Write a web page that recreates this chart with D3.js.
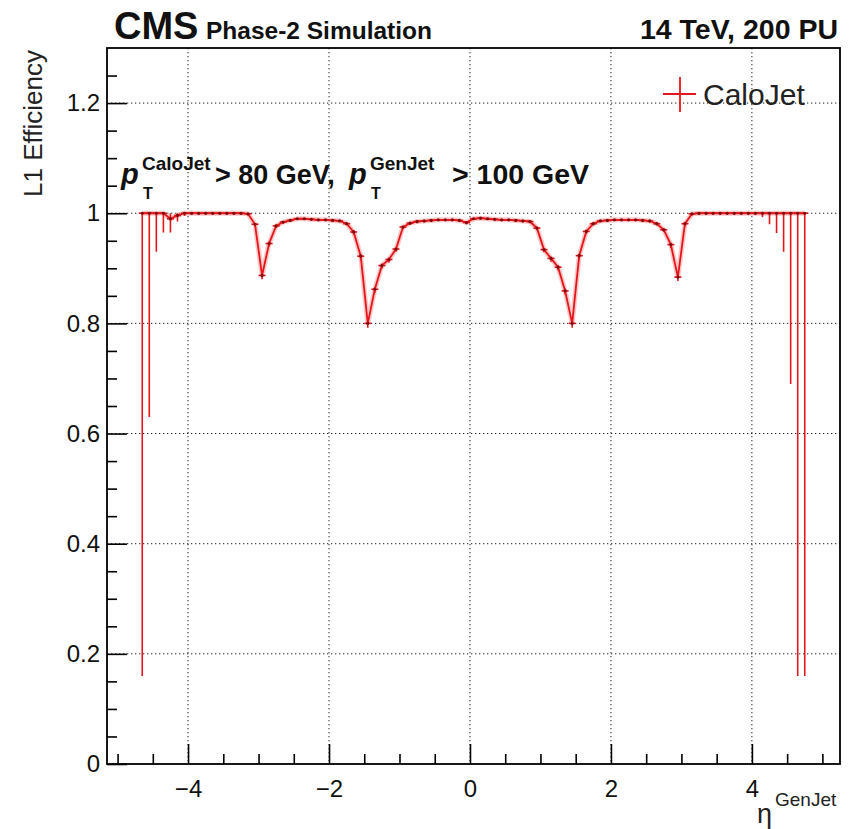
<!DOCTYPE html>
<html>
<head>
<meta charset="utf-8">
<script src="https://cdn.jsdelivr.net/npm/d3@7"></script>
<style>
  body { margin: 0; background: #fff; }
  svg { font-family: "Liberation Sans", Arial, Helvetica, sans-serif; }
</style>
</head>
<body>
<svg id="viz" width="849" height="829"></svg>
<script>
// eta bin centres (bin width 0.1)
const etaBins = [
  -4.65, -4.55, -4.45, -4.35, -4.25, -4.15, -4.05, -3.95, -3.85, -3.75,
  -3.65, -3.55, -3.45, -3.35, -3.25, -3.15, -3.05, -2.95, -2.85, -2.75,
  -2.65, -2.55, -2.45, -2.35, -2.25, -2.15, -2.05, -1.95, -1.85, -1.75,
  -1.65, -1.55, -1.45, -1.35, -1.25, -1.15, -1.05, -0.95, -0.85, -0.75,
  -0.65, -0.55, -0.45, -0.35, -0.25, -0.15, -0.05, 0.05, 0.15, 0.25,
  0.35, 0.45, 0.55, 0.65, 0.75, 0.85, 0.95, 1.05, 1.15, 1.25,
  1.35, 1.45, 1.55, 1.65, 1.75, 1.85, 1.95, 2.05, 2.15, 2.25,
  2.35, 2.45, 2.55, 2.65, 2.75, 2.85, 2.95, 3.05, 3.15, 3.25,
  3.35, 3.45, 3.55, 3.65, 3.75, 3.85, 3.95, 4.05, 4.15, 4.25,
  4.35, 4.45, 4.55, 4.65, 4.75
];

// L1 efficiency per bin
const efficiency = [
  1.0, 1.0, 1.0, 1.0, 0.99, 0.996, 1.0, 1.0, 1.0, 1.0,
  1.0, 1.0, 1.0, 1.0, 1.0, 0.999, 0.98, 0.887, 0.945, 0.977,
  0.984, 0.987, 0.99, 0.99, 0.989, 0.988, 0.988, 0.987, 0.986, 0.981,
  0.966, 0.922, 0.80, 0.862, 0.905, 0.916, 0.935, 0.975, 0.982, 0.985,
  0.986, 0.987, 0.988, 0.988, 0.988, 0.987, 0.983, 0.99, 0.991, 0.99,
  0.989, 0.988, 0.988, 0.987, 0.986, 0.985, 0.973, 0.934, 0.918, 0.902,
  0.859, 0.80, 0.923, 0.967, 0.981, 0.986, 0.987, 0.988, 0.988, 0.988,
  0.988, 0.987, 0.986, 0.981, 0.97, 0.943, 0.884, 0.981, 0.999, 1.0,
  1.0, 1.0, 1.0, 1.0, 1.0, 1.0, 1.0, 1.0, 1.0, 1.0,
  1.0, 1.0, 1.0, 1.0, 1.0
];

// lower edge of the error bar
const errLowEdge = [
  0.16, 0.63, 0.93, 0.965, 0.965, 0.985, 0.995, 0.997, 0.997, 0.997,
  0.997, 0.997, 0.997, 0.997, 0.997, 0.996, 0.976, 0.880, 0.939, 0.973,
  0.981, 0.985, 0.988, 0.988, 0.987, 0.986, 0.986, 0.985, 0.984, 0.978,
  0.961, 0.916, 0.792, 0.855, 0.899, 0.910, 0.930, 0.971, 0.979, 0.982,
  0.983, 0.984, 0.986, 0.986, 0.986, 0.985, 0.980, 0.988, 0.989, 0.988,
  0.987, 0.986, 0.986, 0.985, 0.983, 0.982, 0.969, 0.929, 0.912, 0.896,
  0.852, 0.792, 0.917, 0.962, 0.978, 0.984, 0.985, 0.986, 0.986, 0.986,
  0.986, 0.985, 0.983, 0.978, 0.966, 0.937, 0.877, 0.976, 0.996, 0.997,
  0.997, 0.997, 0.997, 0.997, 0.997, 0.997, 0.997, 0.997, 0.993, 0.98,
  0.964, 0.93, 0.69, 0.16, 0.16
];

const xTicksMajor = [-4, -2, 0, 2, 4];
const xTicksMinor = [-5, -4.5, -3.5, -3, -2.5, -1.5, -1, -0.5, 0.5, 1, 1.5, 2.5, 3, 3.5, 4.5, 5];
const yTicksMajor = [0, 0.2, 0.4, 0.6, 0.8, 1.0, 1.2];
const yTicksMinor = [0.05, 0.1, 0.15, 0.25, 0.3, 0.35, 0.45, 0.5, 0.55, 0.65, 0.7, 0.75,
                     0.85, 0.9, 0.95, 1.05, 1.1, 1.15, 1.25];

const CONFIG = {
  left: 107, right: 840, top: 48, bottom: 764,
  red: "#e4161b",
  halo: "#f6a3a3",
  marker: "#7d0e10",
  binHalf: 0.05
};

const svg = d3.select("#viz");

const x = d3.scaleLinear().domain([-5.15, 5.25]).range([CONFIG.left, CONFIG.right]);
const y = d3.scaleLinear().domain([0, 1.3]).range([CONFIG.bottom, CONFIG.top]);

const fmt = v => (v < 0 ? "\u2212" : "") + Math.abs(v);

// grid (dotted)
const grid = svg.append("g").attr("stroke", "#222").attr("stroke-width", 1)
  .attr("stroke-dasharray", "1.3,2.7");
grid.selectAll(".gx").data(xTicksMajor).join("line")
  .attr("x1", d => x(d)).attr("x2", d => x(d))
  .attr("y1", CONFIG.top).attr("y2", CONFIG.bottom);
grid.selectAll(".gy").data(yTicksMajor.filter(d => d > 0)).join("line")
  .attr("x1", CONFIG.left).attr("x2", CONFIG.right)
  .attr("y1", d => y(d)).attr("y2", d => y(d));

// axes
const xAxis = d3.axisBottom(x).tickValues(xTicksMajor).tickFormat(fmt).tickSizeInner(-20).tickSizeOuter(0).tickPadding(28);
const xAxisMinor = d3.axisBottom(x).tickValues(xTicksMinor).tickFormat("").tickSizeInner(-10).tickSizeOuter(0);
const yAxis = d3.axisLeft(y).tickValues(yTicksMajor).tickFormat(d => d3.format("~g")(d)).tickSizeInner(-20).tickSizeOuter(0).tickPadding(28);
const yAxisMinor = d3.axisLeft(y).tickValues(yTicksMinor).tickFormat("").tickSizeInner(-10).tickSizeOuter(0);

function styleAxis(g) {
  g.select(".domain").remove();
  g.selectAll(".tick line").attr("stroke", "#000").attr("stroke-width", 1.6);
  g.selectAll(".tick text").attr("fill", "#111").attr("font-size", 24);
}

svg.append("g").attr("transform", `translate(0,${CONFIG.bottom})`).call(xAxisMinor).call(styleAxis);
svg.append("g").attr("transform", `translate(0,${CONFIG.bottom})`).call(xAxis).call(styleAxis)
  .selectAll(".tick text").attr("dy", "0.71em").attr("y", 16);
svg.append("g").attr("transform", `translate(${CONFIG.left},0)`).call(yAxisMinor).call(styleAxis);
svg.append("g").attr("transform", `translate(${CONFIG.left},0)`).call(yAxis).call(styleAxis)
  .selectAll(".tick text").attr("x", -7);

// frame
svg.append("rect")
  .attr("x", CONFIG.left).attr("y", CONFIG.top)
  .attr("width", CONFIG.right - CONFIG.left).attr("height", CONFIG.bottom - CONFIG.top)
  .attr("fill", "none").attr("stroke", "#000").attr("stroke-width", 1.8);

// data
const points = etaBins.map((eta, i) => ({ eta, eff: efficiency[i], lo: errLowEdge[i], hi: Math.min(1, efficiency[i] + (efficiency[i] - errLowEdge[i]) * 0.6) }));

const lineGen = d3.line().x(d => x(d.eta)).y(d => y(d.eff));
const plot = svg.append("g");

plot.append("path").datum(points).attr("d", lineGen)
  .attr("fill", "none").attr("stroke", CONFIG.halo).attr("stroke-width", 5).attr("stroke-opacity", 0.6);

// vertical error bars
plot.selectAll(".ey").data(points).join("line")
  .attr("x1", d => x(d.eta)).attr("x2", d => x(d.eta))
  .attr("y1", d => y(d.lo)).attr("y2", d => y(d.hi))
  .attr("stroke", CONFIG.red).attr("stroke-width", 1.6);

// horizontal (bin width) bars
plot.selectAll(".ex").data(points).join("line")
  .attr("x1", d => x(d.eta - CONFIG.binHalf)).attr("x2", d => x(d.eta + CONFIG.binHalf))
  .attr("y1", d => y(d.eff)).attr("y2", d => y(d.eff))
  .attr("stroke", CONFIG.red).attr("stroke-width", 1.6);

plot.append("path").datum(points).attr("d", lineGen)
  .attr("fill", "none").attr("stroke", CONFIG.red).attr("stroke-width", 1.8);

plot.selectAll(".mk").data(points).join("circle")
  .attr("cx", d => x(d.eta)).attr("cy", d => y(d.eff)).attr("r", 1.6)
  .attr("fill", CONFIG.marker);

// header
svg.append("text").attr("x", 114).attr("y", 39)
  .attr("font-size", 38).attr("font-weight", "bold").attr("fill", "#111").text("CMS");
svg.append("text").attr("x", 206).attr("y", 39)
  .attr("font-size", 24.5).attr("font-weight", "bold").attr("fill", "#111").text("Phase-2 Simulation");
svg.append("text").attr("x", 838).attr("y", 39).attr("text-anchor", "end")
  .attr("font-size", 28.5).attr("font-weight", "bold").attr("fill", "#111").text("14 TeV, 200 PU");

// legend
const leg = svg.append("g");
leg.append("line").attr("x1", 663).attr("x2", 696).attr("y1", 94).attr("y2", 94)
  .attr("stroke", CONFIG.red).attr("stroke-width", 1.8);
leg.append("line").attr("x1", 680).attr("x2", 680).attr("y1", 77).attr("y2", 112)
  .attr("stroke", CONFIG.red).attr("stroke-width", 1.8);
leg.append("text").attr("x", 703).attr("y", 105)
  .attr("font-size", 30).attr("fill", "#222").text("CaloJet");

// selection annotation
const ann = svg.append("g").attr("font-weight", "bold").attr("fill", "#111");
const annParts = [
  { t: "p", x: 121, y: 184, s: 29, it: true },
  { t: "CaloJet", x: 142, y: 170, s: 19 },
  { t: "T", x: 143, y: 199, s: 16 },
  { t: "> 80 GeV,", x: 215, y: 184, s: 27 },
  { t: "p", x: 349, y: 184, s: 29, it: true },
  { t: "GenJet", x: 370, y: 170, s: 19 },
  { t: "T", x: 371, y: 199, s: 16 },
  { t: "> 100 GeV", x: 452, y: 184, s: 28.5 }
];
ann.selectAll("text").data(annParts).join("text")
  .attr("x", d => d.x).attr("y", d => d.y).attr("font-size", d => d.s)
  .attr("font-style", d => d.it ? "italic" : "normal").text(d => d.t);

// axis titles
svg.append("text")
  .attr("transform", "translate(42,50) rotate(-90)")
  .attr("text-anchor", "end").attr("font-size", 26).attr("fill", "#222")
  .text("L1 Efficiency");
svg.append("text").attr("x", 757).attr("y", 823).attr("font-size", 27).attr("fill", "#222").text("\u03b7");
svg.append("text").attr("x", 775).attr("y", 806).attr("font-size", 19).attr("fill", "#222").text("GenJet");
</script>
</body>
</html>
